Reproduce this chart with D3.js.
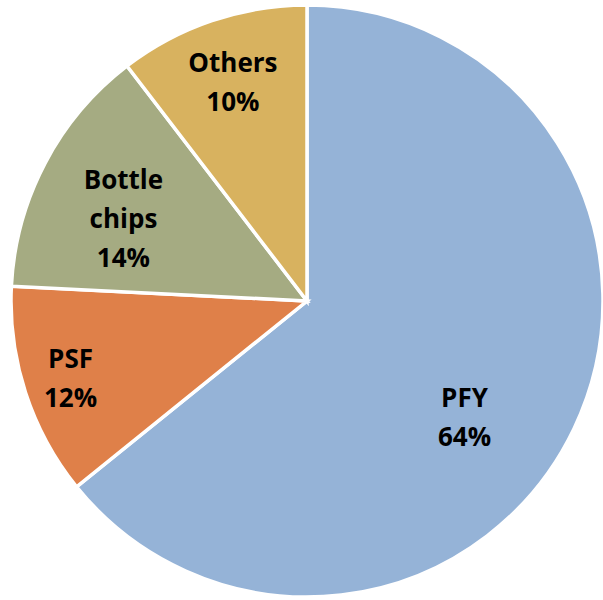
<!DOCTYPE html>
<html>
<head>
<meta charset="utf-8">
<script src="https://cdn.jsdelivr.net/npm/d3@7/dist/d3.min.js"></script>
<style>
  html, body { margin: 0; padding: 0; background: #ffffff; }
  svg { display: block; }
</style>
</head>
<body>
<div id="chart"></div>
<script>
// Data
const categories = ["PFY", "PSF", "Bottle chips", "Others"];
const values = [64.2, 11.6, 13.8, 10.4];
const labelLines = [["PFY"], ["PSF"], ["Bottle", "chips"], ["Others"]];
const colors = ["#95B3D7", "#DF8049", "#A5AB82", "#D8B25F"];

const width = 603, height = 600;
const cx = 307, cy = 301, radius = 296;

// Label placement (fraction of radius and angle nudge in degrees)
const labelRadius = [0.66, 0.84, 0.68, 0.78];
const labelNudge = [10.7, 0, -3.5, 0];

const svg = d3.select("#chart").append("svg")
  .attr("width", width).attr("height", height);

const g = svg.append("g").attr("transform", `translate(${cx},${cy})`);

const total = d3.sum(values);
const pie = d3.pie().sort(null).value(d => d.value);
const data = categories.map((c, i) => ({ name: c, value: values[i], i }));
const arcs = pie(data);

const arc = d3.arc().innerRadius(0).outerRadius(radius);

g.selectAll("path.slice")
  .data(arcs)
  .join("path")
  .attr("class", "slice")
  .attr("d", arc)
  .attr("fill", d => colors[d.data.i])
  .attr("stroke", "#ffffff")
  .attr("stroke-width", 3.5)
  .attr("stroke-linejoin", "miter");

const lineH = 39, capH = 19;
const labels = g.selectAll("text.lbl")
  .data(arcs)
  .join("text")
  .attr("class", "lbl")
  .attr("text-anchor", "middle")
  .attr("font-family", "'Open Sans', 'DejaVu Sans', sans-serif")
  .attr("font-weight", "bold")
  .attr("font-size", 26)
  .attr("fill", "#000000");

labels.each(function(d) {
  const i = d.data.i;
  const mid = (d.startAngle + d.endAngle) / 2 + labelNudge[i] * Math.PI / 180;
  const r = labelRadius[i] * radius;
  const x = r * Math.sin(mid);
  const y = -r * Math.cos(mid);
  const lines = labelLines[i].concat([Math.round(d.data.value / total * 100) + "%"]);
  const n = lines.length;
  const b1 = y - (n - 1) * lineH / 2 + capH / 2;
  const t = d3.select(this);
  lines.forEach((ln, k) => {
    t.append("tspan").attr("x", x).attr("y", b1 + k * lineH).text(ln);
  });
});
</script>
</body>
</html>
